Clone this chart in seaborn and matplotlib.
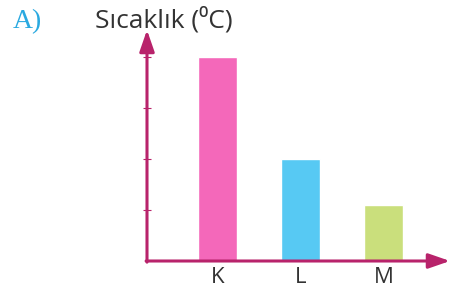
import matplotlib.pyplot as plt
import numpy as np
import pandas as pd
import seaborn as sns

# values (in tick units)
labels = ["K", "L", "M"]
values = [4.0, 2.0, 1.1]
bar_colors = ["#F468BA", "#57C9F3", "#CADF7C"]
ytick_pos = [1, 2, 3, 4]

axis_color = "#B8236B"

sns.set_style("white")
plt.rcParams["font.family"] = ["Open Sans", "DejaVu Sans"]

df = pd.DataFrame({"name": labels, "temp": values})

fig = plt.figure(figsize=(4.51, 2.92), dpi=100)
ax = fig.add_axes([147 / 451, 1 - 261 / 292, 303 / 451, 231 / 292])

sns.barplot(data=df, x="name", y="temp", hue="name", palette=bar_colors,
            width=0.46, saturation=1, legend=False, ax=ax)

ax.set_xlim(-0.85, -0.85 + 303 / 83)
ax.set_ylim(0, 231 / 51)
ax.set_xlabel("")
ax.set_ylabel("")
for s in ax.spines.values():
    s.set_visible(False)

# axes as arrows
arrow = dict(arrowstyle="-|>,head_length=1.3,head_width=0.45", lw=2.2,
             color=axis_color, shrinkA=0, shrinkB=0)
ax.annotate("", xy=(1, 0), xytext=(-0.003, 0), xycoords="axes fraction",
            arrowprops=arrow, annotation_clip=False)
ax.annotate("", xy=(0, 1), xytext=(0, -0.005), xycoords="axes fraction",
            arrowprops=arrow, annotation_clip=False)

ax.set_yticks(ytick_pos)
ax.tick_params(axis="y", direction="inout", length=6, width=0.8,
               color=axis_color, labelleft=False, left=True)
ax.tick_params(axis="x", length=0, pad=4, labelsize=16, labelcolor="#333333")

fig.text(13 / 451, 1 - 28 / 292, "A)", family="Liberation Serif", fontsize=20,
         color="#2AA9E0", va="baseline")
fig.text(95 / 451, 1 - 28 / 292, "Sıcaklık (⁰C)", fontsize=19,
         color="#333333", va="baseline")

fig.savefig("out.png", dpi=100)
